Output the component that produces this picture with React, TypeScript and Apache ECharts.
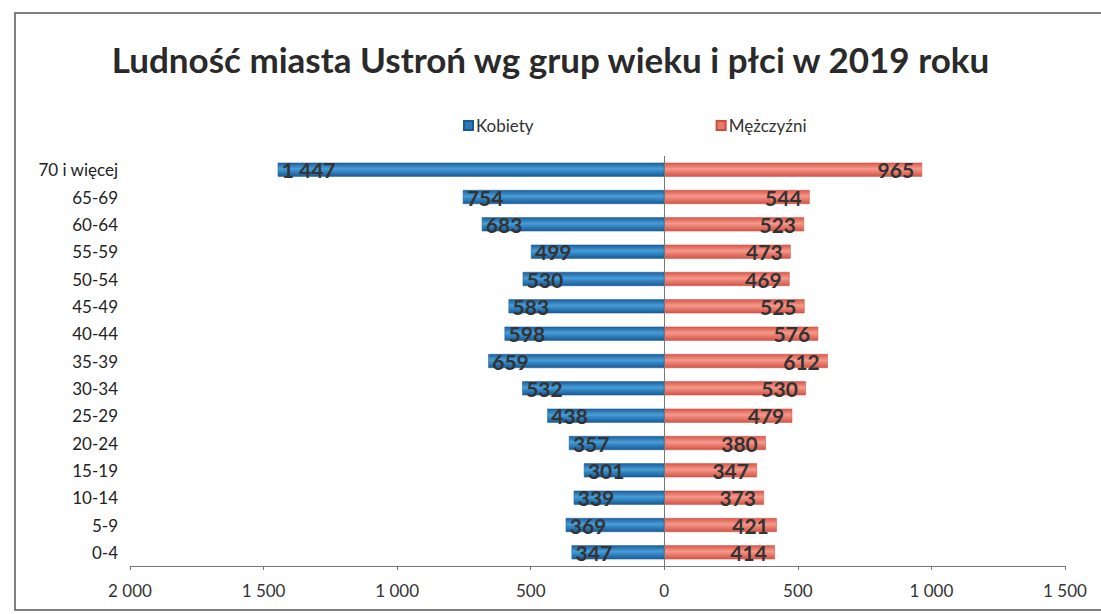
import React, { useEffect, useRef } from "react";
import * as echarts from "echarts";

const categories = [
  "0-4", "5-9", "10-14", "15-19", "20-24", "25-29", "30-34", "35-39",
  "40-44", "45-49", "50-54", "55-59", "60-64", "65-69", "70 i więcej",
];
const kobiety = [347, 369, 339, 301, 357, 438, 532, 659, 598, 583, 530, 499, 683, 754, 1447];
const mezczyzni = [414, 421, 373, 347, 380, 479, 530, 612, 576, 525, 469, 473, 523, 544, 965];
const titleText = "Ludność miasta Ustroń wg grup wieku i płci w 2019 roku";
const seriesNames = ["Kobiety", "Mężczyźni"];

const fmt = (v: number) => {
  const a = Math.round(Math.abs(v));
  return a >= 1000 ? `${Math.floor(a / 1000)} ${String(a % 1000).padStart(3, "0")}` : String(a);
};

const FONT = "Lato, 'Open Sans', sans-serif";

export default function App() {
  const ref = useRef<HTMLDivElement>(null);
  useEffect(() => {
    document.body.style.margin = "0";
    if (!ref.current) return;
    const chart = echarts.init(ref.current, undefined, { renderer: "svg" });
    const blueGrad = new echarts.graphic.LinearGradient(0, 0, 0, 1, [
      { offset: 0, color: "#1c5f9c" },
      { offset: 0.45, color: "#4a9fd8" },
      { offset: 0.55, color: "#3a8fcc" },
      { offset: 1, color: "#1a5a94" },
    ]);
    const redGrad = new echarts.graphic.LinearGradient(0, 0, 0, 1, [
      { offset: 0, color: "#d9584c" },
      { offset: 0.45, color: "#f59a8c" },
      { offset: 0.55, color: "#ee8a7c" },
      { offset: 1, color: "#d25548" },
    ]);
    chart.setOption({
      animation: false,
      backgroundColor: "#ffffff",
      title: {
        text: titleText,
        left: "center",
        top: 36,
        textStyle: { fontFamily: FONT, fontWeight: "bold", fontSize: 35, color: "#2a2a2a" },
      },
      legend: {
        data: [
          { name: seriesNames[0], itemStyle: { color: "#2a78b8" } },
          { name: seriesNames[1], itemStyle: { color: "#e9786a" } },
        ],
        left: 458,
        top: 112,
        itemGap: 182,
        itemWidth: 9,
        itemHeight: 9,
        icon: "rect",
        textStyle: { fontFamily: FONT, fontSize: 17, color: "#333", padding: [0, 0, 0, -2] },
      },
      grid: { left: 130, right: 36, top: 156, bottom: 48, containLabel: false },
      xAxis: {
        type: "value",
        min: -2000,
        max: 1500,
        interval: 500,
        axisLine: { show: true, lineStyle: { color: "#777", width: 1 } },
        axisTick: { show: true, length: 4, lineStyle: { color: "#777" } },
        splitLine: { show: false },
        axisLabel: {
          formatter: (v: number) => fmt(v),
          fontFamily: FONT,
          fontSize: 17,
          color: "#333",
          margin: 16,
        },
      },
      yAxis: {
        type: "category",
        data: categories,
        axisLine: { show: false },
        axisTick: { show: false },
        axisLabel: { fontFamily: FONT, fontSize: 17, color: "#222", margin: 12 },
      },
      series: [
        {
          name: seriesNames[0],
          type: "bar",
          stack: "total",
          barWidth: 14,
          data: kobiety.map((v) => -v),
          itemStyle: { color: blueGrad, borderColor: "#1a5a94", borderWidth: 0.5 },
          label: {
            show: true,
            position: "insideLeft",
            distance: 4,
            formatter: (p: any) => fmt(p.value),
            fontFamily: FONT,
            fontWeight: "bold",
            fontSize: 21,
            color: "#333",
          },
          markLine: {
            silent: true,
            symbol: "none",
            label: { show: false },
            lineStyle: { color: "#777", width: 1, type: "solid" },
            data: [{ xAxis: 0 }],
          },
        },
        {
          name: seriesNames[1],
          type: "bar",
          stack: "total",
          barWidth: 14,
          data: mezczyzni,
          itemStyle: { color: redGrad, borderColor: "#c94f42", borderWidth: 0.5 },
          label: {
            show: true,
            position: "insideRight",
            distance: 8,
            formatter: (p: any) => fmt(p.value),
            fontFamily: FONT,
            fontWeight: "bold",
            fontSize: 21,
            color: "#333",
          },
        },
      ],
      graphic: [
        {
          type: "rect",
          shape: { x: 15, y: 13, width: 1100, height: 597 },
          style: { fill: "none", stroke: "#555", lineWidth: 1.5 },
          silent: true,
        },
      ],
    });
    return () => chart.dispose();
  }, []);
  return <div ref={ref} style={{ width: 1101, height: 614 }} />;
}
